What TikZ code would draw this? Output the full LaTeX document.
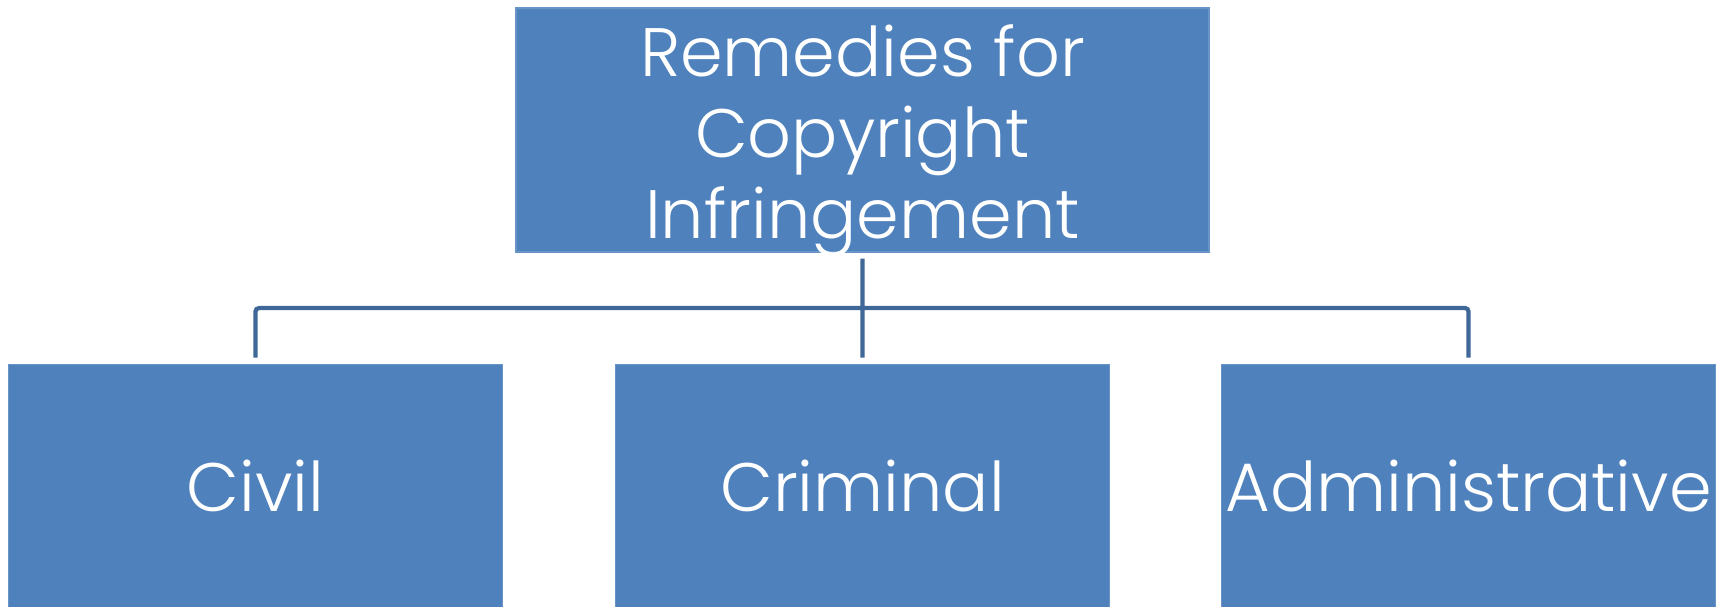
\documentclass[tikz,border=0pt]{standalone}
\usepackage{fontspec}
\setmainfont{Poppins Light}
\usepackage{tikz}
\usetikzlibrary{positioning, calc}
\definecolor{boxblue}{HTML}{4F81BD}
\definecolor{linkblue}{HTML}{3F6797}
\tikzset{
node distance=2.22cm, % gap between the rows and the columns of boxes
remedy/.style={draw=boxblue!85!white, fill=boxblue, text=white, line width=0.6pt, inner sep=0pt,
  font=\fontsize{39}{46}\selectfont, align=center}, % sets the look of every box
link/.style={draw=linkblue, line width=2.4pt, rounded corners=2pt}, % sets the connector lines
}
\begin{document}
\begin{tikzpicture}
            \useasboundingbox (0,0) rectangle (34.7,-12.12);
            \node[remedy, minimum width=13.86cm, minimum height=4.88cm] (top) at (17.25,-2.6) {};
            \node[text=white, font=\fontsize{39}{46}\selectfont, align=center, inner sep=0pt, yshift=-0.22cm] (toptext) at (top) {Remedies for\\Copyright\\Infringement};
            \node[remedy, minimum width=9.88cm, minimum height=4.86cm, below=of top] (crim) {Criminal};
            \node[remedy, minimum width=9.88cm, minimum height=4.86cm, left=2.24cm of crim] (civil) {Civil};
            \node[remedy, minimum width=9.88cm, minimum height=4.86cm, right=2.22cm of crim] (admin) {Administrative};
            \coordinate (bus) at ($(top.south)!0.5!(crim.north)$);
            \draw[link]
                ([yshift=-0.12cm]top.south) -- ([yshift=0.12cm]crim.north)
                ([yshift=0.12cm]civil.north) |- (bus) -| ([yshift=0.12cm]admin.north)
                ;
            \end{tikzpicture}
\end{document}
